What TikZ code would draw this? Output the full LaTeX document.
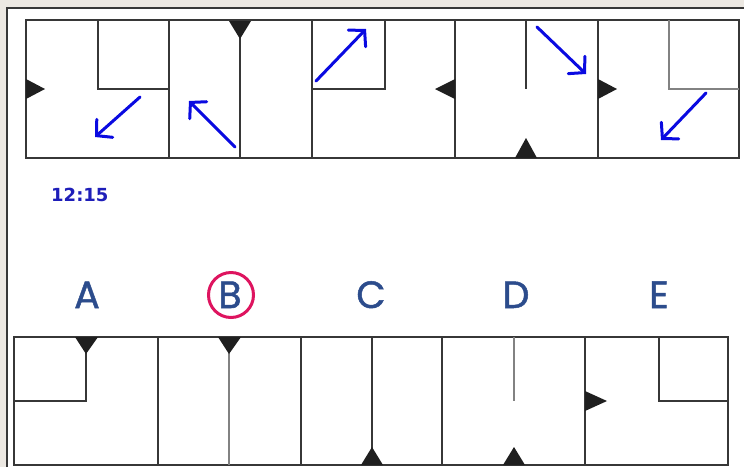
\documentclass[tikz,border=0pt]{standalone}
\usepackage{fontspec}
\usetikzlibrary{arrows.meta}
\newfontfamily\labelfont[FakeBold=1.3]{Poppins}
\newfontfamily\timefont{DejaVu Sans}
\definecolor{bgbeige}{RGB}{236,232,226}
\definecolor{wallc}{RGB}{55,55,55}
\definecolor{lightwall}{RGB}{130,130,130}
\definecolor{arrblue}{RGB}{10,10,225}
\definecolor{letterblue}{RGB}{44,76,140}
\definecolor{timeblue}{RGB}{30,30,185}
\definecolor{ringc}{RGB}{222,20,95}
\tikzset{
  frame/.style={draw=wallc, line width=1.9pt},
  wall/.style={draw=wallc, line width=1.6pt},
  softwall/.style={draw=lightwall, line width=1.6pt},
  doortri/.style={fill=black!88, draw=none},
  bluearrow/.style={draw=arrblue, line width=3pt, line cap=round,
    -{Straight Barb[length=11pt,width=24pt,line cap=round]}},
  choice/.style={font=\labelfont\fontsize{38}{40}\selectfont, text=letterblue, anchor=base, inner sep=0pt},
}
\begin{document}
\begin{tikzpicture}[x=1pt,y=-1pt]
\useasboundingbox (0,0) rectangle (744,467);
\fill[bgbeige] (0,0) rectangle (744,467);
\fill[white] (7,8) rectangle (744,467);
\draw[draw=wallc, line width=1.5pt] (7,467) -- (7,8) -- (744,8);

% ---------- top strip ----------
\draw[frame] (26,20) rectangle (739,158);
\foreach \x in {169,312,455,598} \draw[frame] (\x,20) -- (\x,158);
% inner walls
\draw[wall] (98,20) -- (98,89) -- (169,89);
\draw[wall] (240,20) -- (240,158);
\draw[wall] (312,89) -- (385,89) -- (385,20);
\draw[wall] (526,20) -- (526,89);
\draw[softwall] (669,20) -- (669,89) -- (739,89);
% doors
\fill[doortri] (26,79) -- (26,99) -- (45,89) -- cycle;
\fill[doortri] (229,21) -- (251,21) -- (240,39) -- cycle;
\fill[doortri] (455,79) -- (455,99) -- (435,89) -- cycle;
\fill[doortri] (515,158) -- (537,158) -- (526,138) -- cycle;
\fill[doortri] (598,79) -- (598,99) -- (617,89) -- cycle;
% arrows
\draw[bluearrow] (140,97) -- (95,137);
\draw[bluearrow] (235,147) -- (189,101);
\draw[bluearrow] (316,81) -- (366,29);
\draw[bluearrow] (537,27) -- (586,74);
\draw[bluearrow] (706,93) -- (661,140);

% ---------- time ----------
\node[anchor=base west, inner sep=0pt, text=timeblue,
  font=\timefont\bfseries\fontsize{18}{20}\selectfont] (time) at (51,201) {12:15};

% ---------- answer labels ----------
\node[choice] (la) at (87,308) {A};
\node[choice] (lb) at (230,308) {B};
\node[choice] (lc) at (371,308) {C};
\node[choice] (ld) at (516,308) {D};
\node[choice] (le) at (659,308) {E};
\draw[draw=ringc, line width=3pt] (231,295) circle (22.5);

% ---------- bottom strip ----------
\draw[frame] (14,337) rectangle (728,465);
\foreach \x in {158,301,442,585} \draw[frame] (\x,337) -- (\x,465);
\draw[wall] (14,401) -- (86,401) -- (86,337);
\draw[softwall] (229,337) -- (229,465);
\draw[wall] (372,337) -- (372,465);
\draw[softwall] (514,337) -- (514,401);
\draw[wall] (659,337) -- (659,401) -- (728,401);
\fill[doortri] (75,337) -- (98,337) -- (86,354) -- cycle;
\fill[doortri] (218,337) -- (241,337) -- (229,354) -- cycle;
\fill[doortri] (361,465) -- (383,465) -- (372,447) -- cycle;
\fill[doortri] (503,465) -- (525,465) -- (514,447) -- cycle;
\fill[doortri] (585,391) -- (585,411) -- (607,401) -- cycle;
\end{tikzpicture}
\end{document}
